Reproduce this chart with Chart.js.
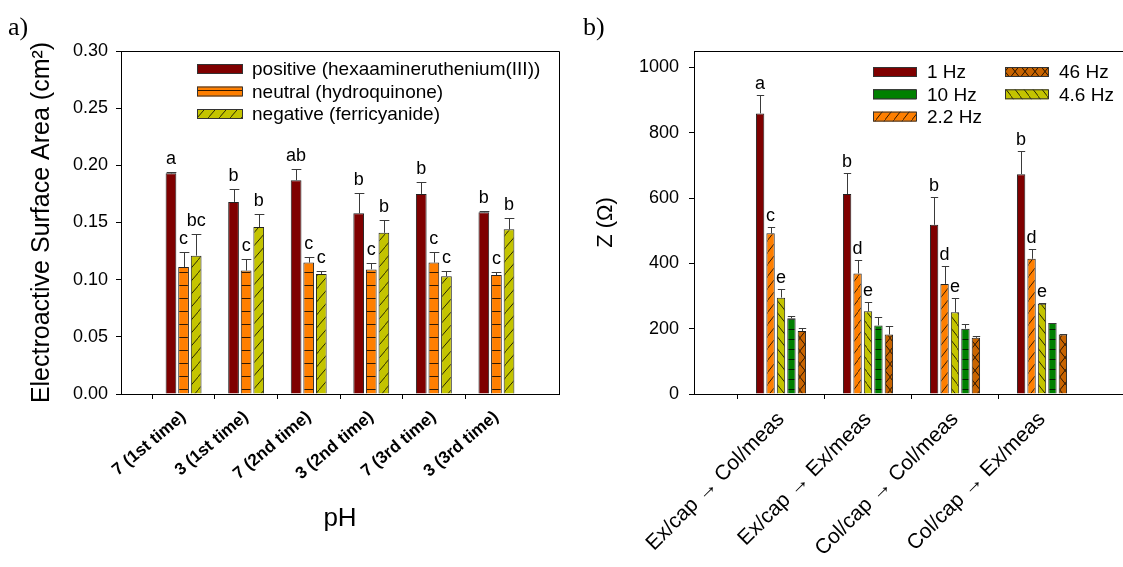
<!DOCTYPE html>
<html>
<head>
<meta charset="utf-8">
<title>Surface area and impedance</title>
<script src="https://cdn.jsdelivr.net/npm/chart.js@4.4.1/dist/chart.umd.min.js"></script>
<style>
  html, body { margin: 0; padding: 0; background: #fff; overflow: hidden; }
  body { width: 1123px; height: 567px; position: relative; }
  .panel { position: absolute; top: 0; width: 570px; height: 567px; }
  #panelA { left: 0; }
  #panelB { left: 570px; }
</style>
</head>
<body>
<div class="panel" id="panelA"><canvas id="areaChart" width="570" height="567"></canvas></div>
<div class="panel" id="panelB"><canvas id="impedanceChart" width="570" height="567"></canvas></div>
<script>
// a) electroactive surface area per pH run
const phRuns = ['7 (1st time)', '3 (1st time)', '7 (2nd time)', '3 (2nd time)', '7 (3rd time)', '3 (3rd time)'];
const positiveArea = [0.193, 0.168, 0.187, 0.158, 0.175, 0.159];
const positiveErr = [0.001, 0.011, 0.010, 0.018, 0.010, 0.001];
const positiveLetters = ['a', 'b', 'ab', 'b', 'b', 'b'];
const neutralArea = [0.111, 0.108, 0.115, 0.109, 0.115, 0.104];
const neutralErr = [0.013, 0.010, 0.005, 0.006, 0.009, 0.003];
const neutralLetters = ['c', 'c', 'c', 'c', 'c', 'c'];
const negativeArea = [0.121, 0.146, 0.105, 0.141, 0.103, 0.144];
const negativeErr = [0.019, 0.011, 0.003, 0.011, 0.005, 0.010];
const negativeLetters = ['bc', 'b', 'c', 'b', 'c', 'b'];
const areaTicks = [0, 0.05, 0.10, 0.15, 0.20, 0.25, 0.30];

// b) impedance per capture/measurement route
const routes = ['Ex/cap \u2192 Col/meas', 'Ex/cap \u2192 Ex/meas', 'Col/cap \u2192 Col/meas', 'Col/cap \u2192 Ex/meas'];
const zHz1 = [859, 612, 518, 673];
const zHz1Err = [55, 65, 86, 70];
const zHz1Letters = ['a', 'b', 'b', 'b'];
const zHz2_2 = [492, 369, 337, 414];
const zHz2_2Err = [18, 41, 56, 29];
const zHz2_2Letters = ['c', 'd', 'd', 'd'];
const zHz4_6 = [295, 253, 250, 276];
const zHz4_6Err = [27, 30, 45, 2];
const zHz4_6Letters = ['e', 'e', 'e', 'e'];
const zHz10 = [232, 210, 200, 217];
const zHz10Err = [8, 26, 15, 1];
const zHz46 = [193, 182, 172, 182];
const zHz46Err = [9, 26, 7, 1];
const impedanceTicks = [0, 200, 400, 600, 800, 1000];

const SANS = 'Arial, "Liberation Sans", sans-serif';

// empty slot on each side of the categories
const padLabels = arr => ['', ...arr, ''];
const padData = arr => [null, ...arr, null];

function hatch(canvasId, bg, w, h, draw) {
  const tile = document.createElement('canvas');
  tile.width = w;
  tile.height = h;
  const g = tile.getContext('2d');
  g.fillStyle = bg;
  g.fillRect(0, 0, w, h);
  g.strokeStyle = 'rgba(0,0,0,0.8)';
  g.lineWidth = 1;
  g.beginPath();
  draw(g, w, h);
  g.stroke();
  return document.getElementById(canvasId).getContext('2d').createPattern(tile, 'repeat');
}
const hLines = (g, w, h) => { g.moveTo(0, h - 0.5); g.lineTo(w, h - 0.5); };
const fwd = (g, w, h) => { g.moveTo(-1, h + 1); g.lineTo(w + 1, -1); g.moveTo(-1, 1); g.lineTo(1, -1); g.moveTo(w - 1, h + 1); g.lineTo(w + 1, h - 1); };
const back = (g, w, h) => { g.moveTo(-1, -1); g.lineTo(w + 1, h + 1); g.moveTo(w - 1, -1); g.lineTo(w + 1, 1); g.moveTo(-1, h - 1); g.lineTo(1, h + 1); };
const cross = (g, w, h) => { fwd(g, w, h); back(g, w, h); };

const decorPlugin = {
  id: 'decor',
  afterDraw(chart, args, opts) {
    const { ctx, chartArea: a } = chart;
    ctx.save();
    // close the frame on top and right
    ctx.strokeStyle = '#000';
    ctx.lineWidth = 1;
    ctx.beginPath();
    ctx.moveTo(a.left, Math.round(a.top) + 0.5);
    ctx.lineTo(Math.round(a.right) + 0.5, Math.round(a.top) + 0.5);
    ctx.lineTo(Math.round(a.right) + 0.5, a.bottom);
    ctx.stroke();

    ctx.fillStyle = '#000';
    ctx.font = '26px "Liberation Serif", "Times New Roman", serif';
    ctx.textAlign = 'left';
    ctx.textBaseline = 'alphabetic';
    ctx.fillText(opts.tag, opts.tagX, opts.tagY);

    // legend laid out in columns
    ctx.font = opts.legendFont;
    ctx.textBaseline = 'middle';
    opts.columns.forEach((col, ci) => {
      col.forEach((di, ri) => {
        const ds = chart.data.datasets[di];
        const x = opts.x + ci * opts.colGap;
        const y = opts.y + ri * opts.rowGap;
        ctx.fillStyle = ds.backgroundColor;
        ctx.fillRect(x, y - 5, opts.swatchW, 10);
        ctx.strokeStyle = '#333';
        ctx.strokeRect(x + 0.5, y - 4.5, opts.swatchW, 9);
        ctx.fillStyle = '#000';
        ctx.fillText(ds.label, x + opts.swatchW + opts.textGap, y + 1);
      });
    });
    ctx.restore();
  }
};

const errorBarPlugin = {
  id: 'errorBars',
  afterDatasetsDraw(chart, args, opts) {
    const { ctx } = chart;
    const yScale = chart.scales.y;
    ctx.save();
    ctx.lineWidth = 1;
    ctx.strokeStyle = '#3a3a3a';
    ctx.fillStyle = '#000';
    ctx.font = opts.font;
    ctx.textAlign = 'center';
    ctx.textBaseline = 'alphabetic';
    chart.data.datasets.forEach((ds, i) => {
      const meta = chart.getDatasetMeta(i);
      meta.data.forEach((bar, j) => {
        const v = ds.data[j];
        if (v == null) return;
        const err = ds.errors ? ds.errors[j] || 0 : 0;
        const top = Math.round(yScale.getPixelForValue(v + err)) + 0.5;
        const cx = Math.round(bar.x) + 0.5;
        const half = bar.width / 2 - 0.5;
        ctx.beginPath();
        ctx.moveTo(cx, bar.y);
        ctx.lineTo(cx, top);
        ctx.moveTo(cx - half, top);
        ctx.lineTo(cx + half, top);
        ctx.stroke();
        if (ds.letters && ds.letters[j]) {
          ctx.fillText(ds.letters[j], bar.x, top - opts.gap);
        }
      });
    });
    ctx.restore();
  }
};

function barOptions(cfg) {
  const n = cfg.labels.length;
  return {
    responsive: false,
    animation: false,
    layout: { padding: { top: 51, right: 11, left: 0, bottom: 0 } },
    datasets: { bar: { categoryPercentage: cfg.catPct, barPercentage: cfg.barPct, borderWidth: 1, borderColor: '#222' } },
    plugins: {
      legend: { display: false },
      tooltip: { enabled: false },
      decor: cfg.decor,
      errorBars: { font: '18px ' + SANS, gap: cfg.letterGap }
    },
    scales: {
      x: {
        type: 'category',
        offset: false,
        border: { color: '#000', width: 1 },
        grid: {
          drawOnChartArea: false,
          tickLength: 5,
          color: c => (c.index === 0 || c.index === n - 1) ? 'rgba(0,0,0,0)' : '#000'
        },
        ticks: {
          autoSkip: false,
          minRotation: cfg.rotation,
          maxRotation: cfg.rotation,
          color: '#000',
          padding: cfg.xPad,
          font: cfg.xFont
        },
        title: cfg.xTitle,
        afterFit: s => {
          s.height = 173;
          s.paddingLeft = 0;
          s.paddingRight = 0;
        }
      },
      y: {
        min: 0,
        max: cfg.yMax,
        border: { color: '#000', width: 1 },
        grid: { drawOnChartArea: false, tickLength: 5, color: '#000' },
        afterBuildTicks: s => { s.ticks = cfg.yTicks.map(v => ({ value: v })); },
        ticks: {
          color: '#000',
          padding: cfg.yPad,
          font: { family: SANS, size: 18 },
          callback: cfg.yFormat
        },
        title: cfg.yTitle,
        afterFit: s => {
          s.width = cfg.yWidth;
          s.paddingTop = 0;
          s.paddingBottom = 0;
        }
      }
    }
  };
}

const RED = '#7f0000', ORANGE = '#ff7f00', OLIVE = '#c4c400', GREEN = '#008000', BROWN = '#c86400';

new Chart(document.getElementById('areaChart'), {
  type: 'bar',
  data: {
    labels: padLabels(phRuns),
    datasets: [
      { label: 'positive (hexaamineruthenium(III))', data: padData(positiveArea), errors: padData(positiveErr), letters: padData(positiveLetters), backgroundColor: RED },
      { label: 'neutral (hydroquinone)', data: padData(neutralArea), errors: padData(neutralErr), letters: padData(neutralLetters), backgroundColor: hatch('areaChart', ORANGE, 8, 13, hLines) },
      { label: 'negative (ferricyanide)', data: padData(negativeArea), errors: padData(negativeErr), letters: padData(negativeLetters), backgroundColor: hatch('areaChart', OLIVE, 11, 13, fwd) }
    ]
  },
  options: barOptions({
    labels: padLabels(phRuns),
    catPct: 0.604,
    barPct: 0.85,
    letterGap: 9,
    rotation: 40,
    xPad: 8,
    xFont: { family: SANS, size: 17, weight: 'bold' },
    xTitle: { display: true, text: 'pH', color: '#000', font: { family: SANS, size: 26, lineHeight: 1.2 }, padding: { top: 0, bottom: 33 } },
    yMax: 0.30,
    yTicks: areaTicks,
    yPad: 8,
    yWidth: 121,
    yFormat: v => v.toFixed(2),
    yTitle: { display: true, text: 'Electroactive Surface Area (cm\u00B2)', color: '#000', font: { family: SANS, size: 25, lineHeight: 1.2 }, padding: { top: 27, bottom: 0 } },
    decor: { tag: 'a)', tagX: 8, tagY: 35, legendFont: '19px ' + SANS, x: 197, y: 69, rowGap: 22.5, colGap: 0, swatchW: 45, textGap: 10, columns: [[0, 1, 2]] }
  }),
  plugins: [errorBarPlugin, decorPlugin]
});

new Chart(document.getElementById('impedanceChart'), {
  type: 'bar',
  data: {
    labels: padLabels(routes),
    datasets: [
      { label: '1 Hz', data: padData(zHz1), errors: padData(zHz1Err), letters: padData(zHz1Letters), backgroundColor: RED },
      { label: '2.2 Hz', data: padData(zHz2_2), errors: padData(zHz2_2Err), letters: padData(zHz2_2Letters), backgroundColor: hatch('impedanceChart', ORANGE, 9, 12, fwd) },
      { label: '4.6 Hz', data: padData(zHz4_6), errors: padData(zHz4_6Err), letters: padData(zHz4_6Letters), backgroundColor: hatch('impedanceChart', OLIVE, 9, 12, back) },
      { label: '10 Hz', data: padData(zHz10), errors: padData(zHz10Err), backgroundColor: hatch('impedanceChart', GREEN, 8, 10, hLines) },
      { label: '46 Hz', data: padData(zHz46), errors: padData(zHz46Err), backgroundColor: hatch('impedanceChart', BROWN, 10, 13, cross) }
    ]
  },
  options: barOptions({
    labels: padLabels(routes),
    catPct: 0.6,
    barPct: 0.8,
    letterGap: 7,
    rotation: 45,
    xPad: 8,
    xFont: { family: SANS, size: 21 },
    xTitle: { display: false },
    yMax: 1050,
    yTicks: impedanceTicks,
    yPad: 10,
    yWidth: 124,
    yFormat: v => String(v),
    yTitle: { display: true, text: 'Z (\u03A9)', color: '#000', font: { family: SANS, size: 22, lineHeight: 1.2 }, padding: { top: 23, bottom: 0 } },
    decor: { tag: 'b)', tagX: 13, tagY: 35, legendFont: '19px ' + SANS, x: 303, y: 72, rowGap: 22.3, colGap: 132, swatchW: 43, textGap: 11, columns: [[0, 3, 1], [4, 2]] }
  }),
  plugins: [errorBarPlugin, decorPlugin]
});
</script>
</body>
</html>
